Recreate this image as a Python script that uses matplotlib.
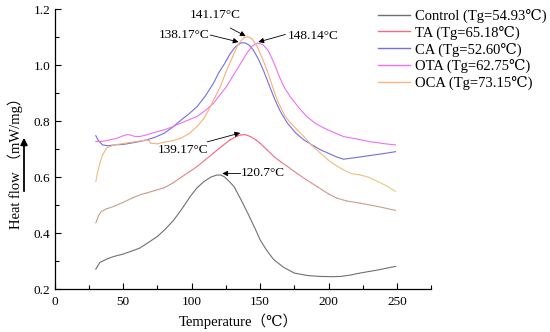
import matplotlib
matplotlib.use("Agg")
import numpy as np
import matplotlib.pyplot as plt
from matplotlib.ticker import MultipleLocator, FormatStrFormatter
from matplotlib.collections import LineCollection
from matplotlib.colors import LinearSegmentedColormap, Normalize
from matplotlib.lines import Line2D

plt.rcParams['font.family'] = ['Liberation Serif', 'DejaVu Serif', 'Noto Sans CJK SC']

# ---- data ----
control_T = [30, 33, 38, 43, 50, 57, 62, 68, 75, 81, 87, 93, 99, 104, 109, 114, 118, 121, 124, 128, 131, 136, 141, 146, 150, 155, 160, 167, 175, 185, 194, 203, 209, 216, 223, 236, 249]
control_y = [0.271, 0.295, 0.307, 0.316, 0.325, 0.337, 0.346, 0.365, 0.388, 0.415, 0.447, 0.487, 0.531, 0.562, 0.584, 0.600, 0.607, 0.608, 0.601, 0.582, 0.566, 0.520, 0.471, 0.420, 0.376, 0.337, 0.305, 0.278, 0.257, 0.248, 0.245, 0.244, 0.245, 0.250, 0.257, 0.268, 0.281]

ta_T = [30, 32, 34, 38, 43, 50, 57, 63, 67, 73, 80, 86, 92, 98, 104, 110, 116, 122, 128, 133, 136, 139, 143, 147, 150, 155, 160, 165, 170, 177, 184, 192, 200, 206, 213, 223, 236, 249]
ta_y = [0.436, 0.462, 0.477, 0.487, 0.495, 0.510, 0.526, 0.538, 0.543, 0.552, 0.562, 0.578, 0.598, 0.618, 0.638, 0.662, 0.686, 0.710, 0.733, 0.746, 0.751, 0.752, 0.745, 0.733, 0.721, 0.698, 0.674, 0.655, 0.638, 0.613, 0.590, 0.565, 0.540, 0.525, 0.515, 0.507, 0.495, 0.481]

ca_T = [30, 32, 35, 39, 43, 50, 55, 62, 67, 73, 80, 86, 92, 98, 104, 110, 116, 120, 124, 128, 132, 136, 139, 142, 145, 149, 153, 157, 161, 165, 170, 176, 182, 188, 194, 200, 206, 211, 220, 230, 240, 249]
ca_y = [0.748, 0.730, 0.715, 0.712, 0.715, 0.717, 0.721, 0.727, 0.733, 0.742, 0.757, 0.778, 0.803, 0.826, 0.852, 0.890, 0.936, 0.975, 1.005, 1.040, 1.066, 1.080, 1.080, 1.072, 1.055, 1.020, 0.975, 0.924, 0.875, 0.833, 0.793, 0.758, 0.733, 0.715, 0.698, 0.685, 0.672, 0.664, 0.670, 0.677, 0.684, 0.691]

ota_T = [30, 35, 40, 45, 50, 53, 55, 58, 62, 67, 73, 80, 86, 92, 98, 104, 110, 116, 120, 125, 130, 135, 140, 144, 148, 152, 156, 160, 164, 168, 172, 178, 184, 191, 199, 205, 211, 220, 230, 240, 249]
ota_y = [0.727, 0.728, 0.733, 0.738, 0.748, 0.752, 0.751, 0.746, 0.745, 0.751, 0.760, 0.769, 0.780, 0.793, 0.805, 0.817, 0.838, 0.864, 0.890, 0.920, 0.960, 1.000, 1.040, 1.068, 1.079, 1.074, 1.052, 1.010, 0.960, 0.918, 0.888, 0.850, 0.817, 0.790, 0.770, 0.757, 0.745, 0.737, 0.727, 0.720, 0.715]

oca_T = [30, 31, 33, 35, 38, 43, 50, 55, 62, 67, 69, 70, 75, 80, 86, 92, 98, 104, 109, 113, 117, 121, 125, 130, 134, 138, 141, 144, 148, 152, 155, 159, 163, 168, 172, 177, 182, 188, 194, 200, 206, 211, 217, 223, 229, 236, 242, 249]
oca_y = [0.584, 0.610, 0.650, 0.680, 0.704, 0.715, 0.720, 0.724, 0.729, 0.733, 0.730, 0.721, 0.719, 0.725, 0.730, 0.739, 0.755, 0.781, 0.810, 0.845, 0.885, 0.924, 0.975, 1.031, 1.075, 1.098, 1.102, 1.095, 1.066, 1.020, 0.983, 0.925, 0.870, 0.820, 0.795, 0.770, 0.745, 0.712, 0.686, 0.660, 0.640, 0.626, 0.612, 0.608, 0.600, 0.584, 0.570, 0.549]

labels = ["Control (Tg=54.93℃)", "TA (Tg=65.18℃)", "CA (Tg=52.60℃)", "OTA (Tg=62.75℃)", "OCA (Tg=73.15℃)"]
colors = ["#707070", "#f06a80", "#7070e0", "#f070f0", "#f8b47c"]

peak_labels = ["141.17°C", "138.17°C", "148.14°C", "139.17°C", "120.7°C"]

# ---- figure ----
fig = plt.figure(figsize=(5.5, 3.32), dpi=100)
ax = fig.add_axes([0.0995, 0.1295, 0.6845, 0.8425])

# colour ramps (by heat-flow value) seen on the TA and OCA traces
ramps = {
    1: (LinearSegmentedColormap.from_list('ta', ['#c8a08c', '#e8808c', '#f8607c']), Normalize(0.52, 0.72)),
    4: (LinearSegmentedColormap.from_list('oca', ['#e4cc80', '#f4b87c', '#f8b07c']), Normalize(0.56, 0.78)),
}

series = [(control_T, control_y), (ta_T, ta_y), (ca_T, ca_y), (ota_T, ota_y), (oca_T, oca_y)]
for i, ((t, y), c) in enumerate(zip(series, colors)):
    if i in ramps:
        cmap, norm = ramps[i]
        pts = np.column_stack([t, y])
        segs = np.stack([pts[:-1], pts[1:]], axis=1)
        mid = (np.asarray(y[:-1]) + np.asarray(y[1:])) / 2
        lc = LineCollection(segs, colors=cmap(norm(mid)), lw=0.8, capstyle='round')
        ax.add_collection(lc)
    else:
        ax.plot(t, y, color=c, lw=0.8)

ax.set_xlim(0, 275)
ax.set_ylim(0.2, 1.2)
ax.xaxis.set_major_locator(MultipleLocator(50))
ax.xaxis.set_minor_locator(MultipleLocator(25))
ax.yaxis.set_major_locator(MultipleLocator(0.2))
ax.yaxis.set_minor_locator(MultipleLocator(0.1))
ax.yaxis.set_major_formatter(FormatStrFormatter('%.1f'))
for s in ['top', 'right']:
    ax.spines[s].set_visible(False)
for s in ['left', 'bottom']:
    ax.spines[s].set_linewidth(0.9)
ax.tick_params(which='both', direction='in', labelsize=9.5, width=0.8)
ax.tick_params(which='major', length=4.5)
ax.tick_params(which='minor', length=3)
ax.tick_params(axis='x', pad=5)
ax.tick_params(axis='y', pad=3)

# annotations
fs = 9.5
arr = dict(arrowstyle='-|>', color='black', lw=0.6, mutation_scale=8, shrinkA=0, shrinkB=0)
ax.text(117.3, 1.180, peak_labels[0], ha='center', va='center', fontsize=fs)
ax.annotate('', xy=(139.5, 1.104), xytext=(128.3, 1.133), arrowprops=arr)
ax.text(113.2, 1.108, peak_labels[1], ha='right', va='center', fontsize=fs)
ax.annotate('', xy=(134.3, 1.083), xytext=(113.6, 1.108), arrowprops=arr)
ax.text(170.0, 1.105, peak_labels[2], ha='left', va='center', fontsize=fs)
ax.annotate('', xy=(148.7, 1.083), xytext=(168.5, 1.110), arrowprops=arr)
ax.text(94.0, 0.697, peak_labels[3], ha='center', va='center', fontsize=fs)
ax.annotate('', xy=(135.5, 0.758), xytext=(111.4, 0.726), arrowprops=arr)
ax.text(135.8, 0.613, peak_labels[4], ha='left', va='center', fontsize=fs)
ax.annotate('', xy=(122.4, 0.613), xytext=(135.8, 0.613), arrowprops=arr)

# axis labels
fig.text(238 / 550, 1 - 321 / 332, "Temperature（℃）", ha='center', va='center', fontsize=10.5)
fig.text(15 / 550, 1 - 160 / 332, "Heat flow （mW/mg）", ha='center', va='center', rotation=90, fontsize=10.5)
fig.add_artist(matplotlib.patches.FancyArrowPatch((24 / 550, 1 - 194 / 332), (24 / 550, 1 - 135 / 332),
                                                  transform=fig.transFigure, arrowstyle='-|>',
                                                  mutation_scale=10, lw=1.3, color='black'))

handles = [Line2D([], [], color=c, lw=1.0) for c in colors]
leg = fig.legend(handles, labels, loc='upper left', bbox_to_anchor=(0.672, 1.0), frameon=False, fontsize=10.5,
                 handlelength=2.2, handletextpad=0.3, labelspacing=0.18, borderaxespad=0.2)

fig.savefig("out.png", dpi=100)
